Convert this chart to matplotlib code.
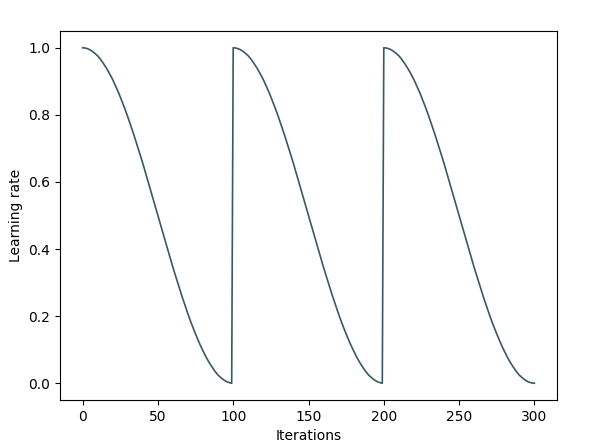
"""Cosine annealing learning-rate schedule with warm restarts."""

import matplotlib

matplotlib.use("Agg")
import matplotlib.pyplot as plt
import numpy as np

# learning rate every 2 iterations; the three cycles look identical
cycle_lr = [1.000, 0.999, 0.996, 0.991, 0.984, 0.976, 0.965, 0.952, 0.938, 0.922,
            0.905, 0.885, 0.865, 0.842, 0.819, 0.794, 0.768, 0.741, 0.713, 0.684,
            0.655, 0.624, 0.594, 0.563, 0.531, 0.500, 0.469, 0.437, 0.406, 0.376,
            0.345, 0.316, 0.287, 0.259, 0.232, 0.206, 0.181, 0.158, 0.136, 0.115,
            0.096, 0.078, 0.062, 0.048, 0.035, 0.024, 0.016, 0.009, 0.004, 0.001,
            0.000]

cycle_1_iters = list(range(0, 100, 2)) + [99]
cycle_2_iters = list(range(100, 200, 2)) + [199]
cycle_3_iters = list(range(200, 300, 2)) + [300]

iterations = np.concatenate([cycle_1_iters, cycle_2_iters, cycle_3_iters])
learning_rate = np.concatenate([cycle_lr, cycle_lr, cycle_lr])

fig = plt.figure(figsize=(5.92, 4.47), dpi=100)
ax = fig.add_axes([60 / 592, 1 - 400 / 447, 497 / 592, 369 / 447])
ax.plot(iterations, learning_rate, color="#3a5964", linewidth=1.2)
ax.set_xlabel("Iterations")
ax.set_ylabel("Learning rate")

fig.savefig("out.png", dpi=100)
plt.close(fig)
